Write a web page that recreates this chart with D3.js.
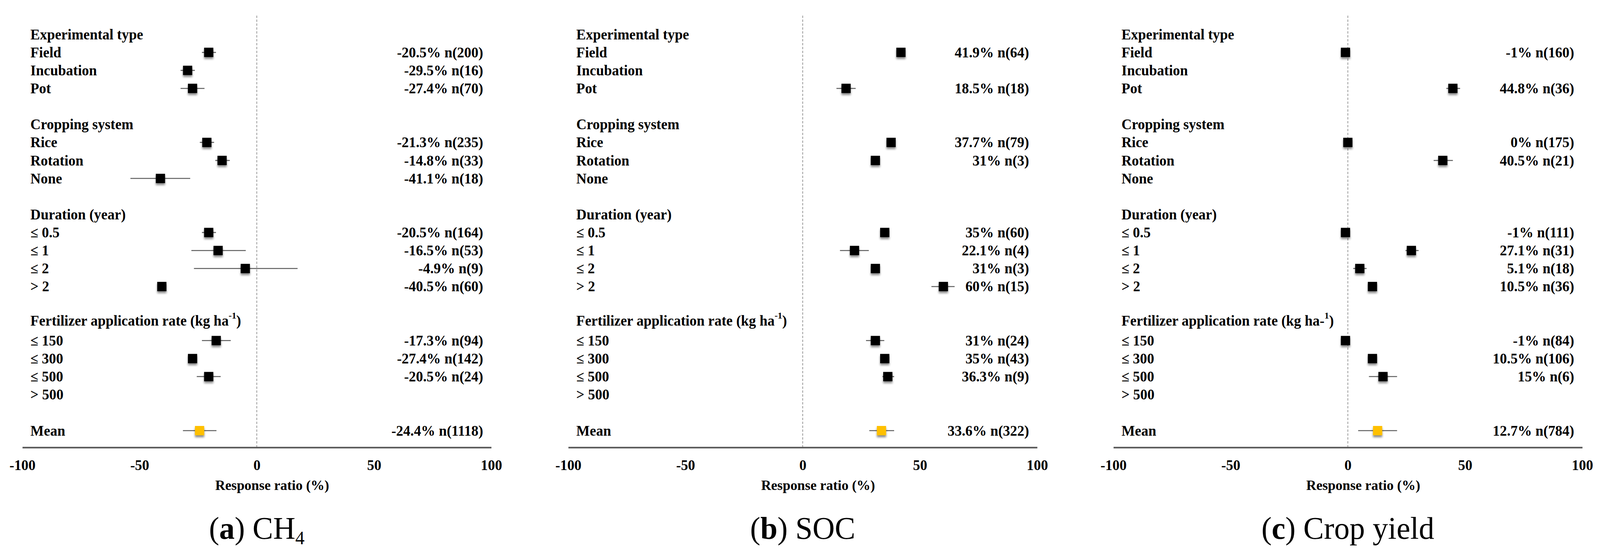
<!DOCTYPE html>
<html>
<head>
<meta charset="utf-8">
<script src="https://cdn.jsdelivr.net/npm/d3@7"></script>
<style>
html, body { margin: 0; padding: 0; background: #fff; overflow: hidden; }
svg { display: block; }
</style>
</head>
<body>
<div class="chart"></div>
<script>
// row labels, top to bottom ("" = blank spacer row)
const rowLabels = ["Experimental type", "Field", "Incubation", "Pot", "",
  "Cropping system", "Rice", "Rotation", "None", "",
  "Duration (year)", "≤ 0.5", "≤ 1", "≤ 2", "> 2", "",
  "Fertilizer application rate (kg ha", "≤ 150", "≤ 300", "≤ 500", "> 500", "",
  "Mean"];
const headerRows = [0, 5, 10, 16];
const fertRow = 16;
const meanRow = 22;
const ticks = [-100, -50, 0, 50, 100];

// (a) CH4
const ch4Mean = [null, -20.5, -29.5, -27.4, null, null, -21.3, -14.8, -41.1, null, null, -20.5, -16.5, -4.9, -40.5, null, null, -17.3, -27.4, -20.5, null, null, -24.4];
const ch4Low  = [null, -23.4, -32.5, -32.5, null, null, -24.3, -17.7, -53.9, null, null, -23.4, -27.9, -26.8, -41.5, null, null, -23.4, -28.3, -25.6, null, null, -31.5];
const ch4High = [null, -17.4, -26.4, -22.3, null, null, -18.2, -11.5, -28.4, null, null, -17.4, -4.7, 17.4, -39.5, null, null, -11.1, -26.5, -15.4, null, null, -17.2];
const ch4N    = [null, 200, 16, 70, null, null, 235, 33, 18, null, null, 164, 53, 9, 60, null, null, 94, 142, 24, null, null, 1118];

// (b) SOC
const socMean = [null, 41.9, null, 18.5, null, null, 37.7, 31, null, null, null, 35, 22.1, 31, 60, null, null, 31, 35, 36.3, null, null, 33.6];
const socLow  = [null, 41, null, 14.4, null, null, 37, 30, null, null, null, 34, 15.9, 30, 54.9, null, null, 27, 34, 34, null, null, 28.4];
const socHigh = [null, 42.8, null, 22.6, null, null, 38.4, 32, null, null, null, 36, 28.2, 32, 64.8, null, null, 34.8, 36, 39, null, null, 39];
const socN    = [null, 64, null, 18, null, null, 79, 3, null, null, null, 60, 4, 3, 15, null, null, 24, 43, 9, null, null, 322];

// (c) Crop yield
const yieldMean = [null, -1, null, 44.8, null, null, 0, 40.5, null, null, null, -1, 27.1, 5.1, 10.5, null, null, -1, 10.5, 15, null, null, 12.7];
const yieldLow  = [null, -2, null, 42, null, null, -1, 36.6, null, null, null, -2, 24.6, 2.3, 9.5, null, null, -2, 9.5, 9, null, null, 4.4];
const yieldHigh = [null, 0, null, 47.9, null, null, 1, 44.8, null, null, null, 0, 30.2, 8, 11.5, null, null, 0, 11.5, 21, null, null, 21];
const yieldN    = [null, 160, null, 36, null, null, 175, 21, null, null, null, 111, 31, 18, 36, null, null, 84, 106, 6, null, null, 784];

const panels = [
  { letter: "a", name: "CH", sub: "4", left: 58, mean: ch4Mean, low: ch4Low, high: ch4High, n: ch4N, fert: ["", "-1"] },
  { letter: "b", name: "SOC", sub: "", left: 1476, mean: socMean, low: socLow, high: socHigh, n: socN, fert: ["", "-1"] },
  { letter: "c", name: "Crop yield", sub: "", left: 2892, mean: yieldMean, low: yieldLow, high: yieldHigh, n: yieldN, fert: ["-", "1"] }
];

const W = 4156, H = 1419;
const panelW = 1218;
const axisY = 1146;
const font = "'Liberation Serif', 'Times New Roman', serif";

// scale the drawing to whatever the viewport really is
const svg = d3.select(".chart").append("svg")
  .attr("viewBox", "0 0 " + W + " " + H)
  .attr("preserveAspectRatio", "none")
  .style("width", "100vw").style("height", "100vh")
  .style("font-family", font);

svg.append("rect").attr("width", W).attr("height", H).attr("fill", "#fff");

const filter = svg.append("defs").append("filter")
  .attr("id", "shadow").attr("x", "-50%").attr("y", "-50%").attr("width", "200%").attr("height", "200%");
filter.append("feDropShadow")
  .attr("dx", 0).attr("dy", 5).attr("stdDeviation", 2.5)
  .attr("flood-color", "#000").attr("flood-opacity", 0.45);

const y = d3.scalePoint()
  .domain(d3.range(rowLabels.length))
  .range([88, 1103]);

panels.forEach(p => {
  const x = d3.scaleLinear().domain([-100, 100]).range([p.left, p.left + panelW]);
  const g = svg.append("g");

  // zero reference line
  g.append("line")
    .attr("x1", x(0)).attr("x2", x(0))
    .attr("y1", 40).attr("y2", axisY)
    .attr("stroke", "#9a9a9a").attr("stroke-width", 2)
    .attr("stroke-dasharray", "6,4");

  // axis
  const ax = g.append("g")
    .attr("transform", "translate(0," + axisY + ")")
    .call(d3.axisBottom(x).tickValues(ticks).tickSize(0).tickPadding(32).tickFormat(d => String(d)));
  ax.select(".domain").attr("stroke", "#555").attr("stroke-width", 4);
  ax.selectAll("text")
    .attr("font-family", font).attr("font-size", 37).attr("font-weight", "bold").attr("fill", "#000");

  g.append("text")
    .attr("x", x(0) + 40).attr("y", 1243)
    .attr("text-anchor", "middle").attr("dominant-baseline", "central")
    .attr("font-size", 36).attr("font-weight", "bold")
    .text("Response ratio (%)");

  // row labels
  const labels = g.selectAll(".rowlab")
    .data(rowLabels.map((t, i) => ({ t, i })).filter(d => d.t !== ""))
    .enter().append("text")
    .attr("class", "rowlab")
    .attr("x", x(-100) + 21)
    .attr("y", d => y(d.i) - (d.i === fertRow ? 5 : 0))
    .attr("dominant-baseline", "central")
    .attr("font-size", 37).attr("font-weight", "bold");
  labels.filter(d => d.i !== fertRow).text(d => d.t);
  const fl = labels.filter(d => d.i === fertRow);
  fl.append("tspan").text(d => d.t + p.fert[0]);
  fl.append("tspan").attr("dy", -13).attr("font-size", 24).text(p.fert[1]);
  fl.append("tspan").attr("dy", 13).text(")");

  const pts = d3.range(rowLabels.length).filter(i => p.mean[i] != null);

  // confidence intervals
  g.selectAll(".ci").data(pts).enter().append("line")
    .attr("x1", i => x(p.low[i])).attr("x2", i => x(p.high[i]))
    .attr("y1", i => y(i)).attr("y2", i => y(i))
    .attr("stroke", "#5f5f5f").attr("stroke-width", 2.5);

  // markers
  const s = 24;
  g.selectAll(".pt").data(pts).enter().append("rect")
    .attr("x", i => x(p.mean[i]) - s / 2)
    .attr("y", i => y(i) - s / 2)
    .attr("width", s).attr("height", s)
    .attr("fill", i => i === meanRow ? "#FFC000" : "#000")
    .attr("filter", "url(#shadow)");

  // value labels
  g.selectAll(".val").data(pts).enter().append("text")
    .attr("x", x(100) - 21)
    .attr("y", i => y(i))
    .attr("text-anchor", "end").attr("dominant-baseline", "central")
    .attr("font-size", 37).attr("font-weight", "bold")
    .text(i => p.mean[i] + "% n(" + p.n[i] + ")");

  // caption
  const cap = g.append("text")
    .attr("x", x(0)).attr("y", 1380)
    .attr("text-anchor", "middle")
    .attr("font-size", 80);
  cap.append("tspan").text("(");
  cap.append("tspan").attr("font-weight", "bold").text(p.letter);
  cap.append("tspan").text(") " + p.name);
  if (p.sub) cap.append("tspan").attr("dy", 14).attr("font-size", 48).text(p.sub);
});
</script>
</body>
</html>
